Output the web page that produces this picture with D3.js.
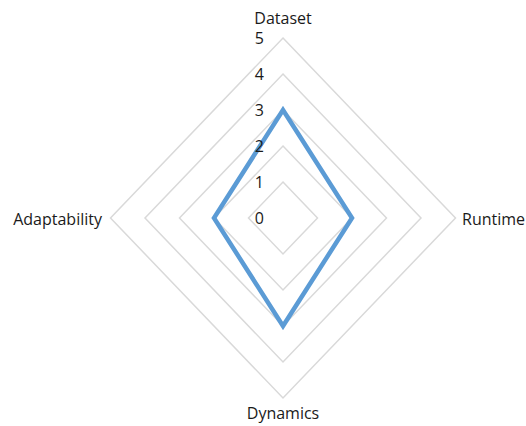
<!DOCTYPE html>
<html>
<head>
<meta charset="utf-8">
<script src="https://cdn.jsdelivr.net/npm/d3@7"></script>
<style>
  html, body { margin: 0; padding: 0; background: #fff; }
  svg { display: block; }
  text { font-family: "Open Sans", "Liberation Sans", sans-serif; fill: #1a1a1a; }
</style>
</head>
<body>
<svg id="chart" width="526" height="426"></svg>
<script>
// Axes in clockwise order starting at the top
const axes = ["Dataset", "Runtime", "Dynamics", "Adaptability"];
const scores = [3, 2, 3, 2];
const levels = [0, 1, 2, 3, 4, 5];

const svg = d3.select("#chart");
const cx = 283, cy = 218;

// Radial scales (horizontal and vertical extents differ slightly)
const rx = d3.scaleLinear().domain([0, 5]).range([0, 172.5]);
const ry = d3.scaleLinear().domain([0, 5]).range([0, 180]);
const angle = d3.scalePoint().domain(axes.concat(["_end"])).range([0, 2 * Math.PI]);

function pt(axis, v) {
  const a = angle(axis);
  return [cx + Math.sin(a) * rx(v), cy - Math.cos(a) * ry(v)];
}

// Concentric grid polygons
svg.append("g").selectAll("path")
  .data(levels.filter(l => l > 0))
  .join("path")
  .attr("d", l => d3.line()(axes.map(a => pt(a, l))) + "Z")
  .attr("fill", "none")
  .attr("stroke", "#d9d9d9")
  .attr("stroke-width", 1.5);

// Data polygon
svg.append("path")
  .attr("d", d3.line()(axes.map((a, i) => pt(a, scores[i]))) + "Z")
  .attr("fill", "none")
  .attr("stroke", "#5b9bd5")
  .attr("stroke-width", 4.5)
  .attr("stroke-linejoin", "miter");

// Level labels along the top axis
svg.append("g").selectAll("text")
  .data(levels)
  .join("text")
  .attr("x", 264)
  .attr("y", l => pt("Dataset", l)[1])
  .attr("dy", "0.35em")
  .attr("text-anchor", "end")
  .attr("font-size", 16)
  .text(d => d);

// Axis category labels
const labelPos = {
  "Dataset":      { x: 283, y: 18,  anchor: "middle" },
  "Runtime":      { x: 462, y: 219, anchor: "start" },
  "Dynamics":     { x: 283, y: 413, anchor: "middle" },
  "Adaptability": { x: 102, y: 219, anchor: "end" }
};
svg.append("g").selectAll("text")
  .data(axes)
  .join("text")
  .attr("x", a => labelPos[a].x)
  .attr("y", a => labelPos[a].y)
  .attr("dy", "0.35em")
  .attr("text-anchor", a => labelPos[a].anchor)
  .attr("font-size", 16)
  .text(a => a);
</script>
</body>
</html>
